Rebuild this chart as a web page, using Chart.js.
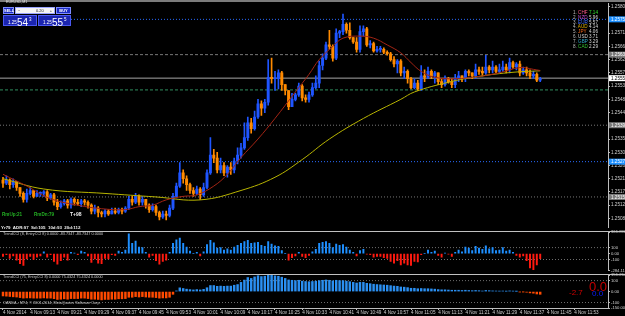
<!DOCTYPE html>
<html>
<head>
<meta charset="utf-8">
<title>EURUSD,M1</title>
<script src="https://cdn.jsdelivr.net/npm/chart.js@4.4.1/dist/chart.umd.min.js"></script>
<style>
  html, body { margin: 0; padding: 0; background: #000; }
  #wrap { position: relative; width: 625px; height: 316px; overflow: hidden; background: #000;
          font-family: "Liberation Sans", Arial, sans-serif; }
  canvas { position: absolute; left: 0; }
  #cMain { top: 0; }
  #cCci8 { top: 226px; }
  #cCci75 { top: 269px; }
  .t { position: absolute; white-space: nowrap; line-height: 1; }
  #strip { position: absolute; left: 0; top: 0; width: 625px; height: 2px; background: #7b7b7b; }
  .btn { position: absolute; box-sizing: border-box; background: #1c2cc4; border: 1px solid #7d8cff;
         color: #fff; font-size: 4px; font-weight: bold; text-align: center; line-height: 5px; }
  .lot { position: absolute; box-sizing: border-box; background: #f4f4f4; border: 1px solid #9aa4ff;
         color: #222; font-size: 4px; line-height: 5px; }
  .pbox { position: absolute; box-sizing: border-box; background: #1b25b0; border: 1px solid #4a58f0;
          color: #fff; }
  .pbox small { position: absolute; left: 4px; top: 4px; font-size: 4.5px; }
  .pbox b { position: absolute; left: 13px; top: 1px; font-size: 10px; font-weight: normal; }
  .pbox sup { position: absolute; left: 25px; top: 1px; font-size: 4.5px; }
  .cur { position: absolute; left: 573px; font-size: 4.6px; line-height: 1; white-space: nowrap; }
  .cur span { display: inline-block; width: 16px; }
</style>
</head>
<body>
<div id="wrap">
  <canvas id="cMain" width="625" height="231"></canvas>
  <canvas id="cCci8" width="625" height="48"></canvas>
  <canvas id="cCci75" width="625" height="47"></canvas>

  <div id="strip"></div>
  <div class="t" style="left:6px;top:1px;font-size:3.6px;color:#e8e8e8">EURUSD,M1</div>
  <div class="btn" style="left:3px;top:7px;width:11px;height:7px">SELL</div>
  <div class="lot" style="left:15px;top:7px;width:40px;height:7px">
    <span style="position:absolute;left:2px">&minus;</span>
    <span style="position:absolute;left:20px">0.20</span>
    <span style="position:absolute;right:2px">+</span>
  </div>
  <div class="btn" style="left:56px;top:7px;width:15px;height:7px">BUY</div>
  <div class="pbox" style="left:3px;top:15px;width:34px;height:11px"><small>1.25</small><b>54</b><sup>3</sup></div>
  <div class="pbox" style="left:38px;top:15px;width:33px;height:11px"><small>1.25</small><b>55</b><sup>5</sup></div>

  <div id="curList"></div>

  <div class="t" style="left:2px;top:213px;font-size:4.6px;font-weight:bold;color:#23b023">RmUp:21</div>
  <div class="t" style="left:34px;top:213px;font-size:4.6px;font-weight:bold;color:#23b023">RmDn:79</div>
  <div class="t" style="left:70px;top:212px;font-size:5px;font-weight:bold;color:#f0f0f0">T+98</div>
  <div class="t" style="left:1px;top:226px;font-size:4.4px;font-weight:bold;color:#f0f0f0">Yr79&nbsp; ADR:97&nbsp; Sd:105&nbsp; 10d:93&nbsp; 20d:112</div>
  <div class="t" style="left:3px;top:233px;font-size:3.8px;color:#c8c8c8">TrendCCI (8, EntryCCI 8) 0.0000 -83.7347 -83.7347 0.0000</div>
  <div class="t" style="left:3px;top:276px;font-size:3.8px;color:#c8c8c8">TrendCCI (75, EntryCCI 8) 0.0000 75.4324 75.4324 0.0000</div>
  <div class="t" style="left:3px;top:302px;font-size:3.8px;color:#c8c8c8">OANDA - MT4, &copy; 2001-2014, MetaQuotes Software Corp.</div>
  <div class="t" style="left:589px;top:280px;font-size:13px;color:#c40000">0.0</div>
  <div class="t" style="left:569px;top:289px;font-size:8px;color:#d00000">-2.7</div>
  <div class="t" style="left:592px;top:290px;font-size:8px;color:#0a1eff">0.0</div>
</div>

<script>
// EURUSD M1, 4 Nov 2014, one candle per minute from 09:05
const firstOpen = 1.2521;
const closes = [
  1.252, 1.2521, 1.25195, 1.25205, 1.25185, 1.25165, 1.25145, 1.25165, 1.25175, 1.25155,
  1.25165, 1.25165, 1.2517, 1.2515, 1.2516, 1.25135, 1.2512, 1.2513, 1.2514, 1.25125,
  1.25145, 1.25135, 1.2513, 1.2514, 1.25135, 1.25125, 1.25105, 1.25115, 1.251, 1.25095,
  1.25105, 1.25095, 1.25105, 1.251, 1.2511, 1.25105, 1.25115, 1.25145, 1.25135, 1.25155,
  1.25135, 1.25145, 1.25125, 1.2511, 1.2512, 1.251, 1.25085, 1.25095, 1.2509, 1.25115,
  1.25155, 1.2519, 1.25235, 1.25215, 1.25195, 1.25175, 1.25165, 1.2518, 1.2516, 1.25185,
  1.25235, 1.25295, 1.25285, 1.25245, 1.2526, 1.25235, 1.25255, 1.25245, 1.25275, 1.25295,
  1.2532, 1.25355, 1.25405, 1.25385, 1.25425, 1.2547, 1.25455, 1.25475, 1.2556, 1.25555,
  1.25555, 1.25575, 1.25535, 1.25515, 1.2546, 1.25485, 1.255, 1.2553, 1.2549, 1.25485,
  1.255, 1.25525, 1.2554, 1.256, 1.25625, 1.2567, 1.25665, 1.25625, 1.2571, 1.25715,
  1.2574, 1.2572, 1.25695, 1.2568, 1.25655, 1.25715, 1.25725, 1.2567, 1.25675, 1.2565,
  1.25655, 1.25655, 1.25645, 1.2564, 1.2562, 1.25605, 1.25615, 1.25575, 1.2558, 1.25555,
  1.25525, 1.2554, 1.2552, 1.25565, 1.2556, 1.2558, 1.25565, 1.25575, 1.25545, 1.25535,
  1.25555, 1.25545, 1.25535, 1.25555, 1.25565, 1.25555, 1.2558, 1.25575, 1.25565, 1.25585,
  1.2558, 1.25575, 1.25595, 1.25585, 1.25595, 1.2558, 1.25585, 1.25595, 1.25585, 1.2561,
  1.25595, 1.25605, 1.25575, 1.25585, 1.25575, 1.25565, 1.2557, 1.2555, 1.25555
];
const highs = [
  1.2522, 1.25225, 1.25215, 1.25215, 1.25205, 1.25185, 1.2517, 1.2518, 1.25185, 1.25175,
  1.25175, 1.2517, 1.25175, 1.25175, 1.25165, 1.25165, 1.25145, 1.2514, 1.25145, 1.25145,
  1.2515, 1.2515, 1.25145, 1.25145, 1.25145, 1.2514, 1.2513, 1.25125, 1.2512, 1.25105,
  1.2511, 1.2511, 1.25115, 1.25115, 1.25115, 1.25115, 1.2512, 1.25155, 1.25155, 1.25165,
  1.2516, 1.25155, 1.25145, 1.2513, 1.2513, 1.25125, 1.25105, 1.25105, 1.25105, 1.25125,
  1.25165, 1.252, 1.2527, 1.25245, 1.25225, 1.252, 1.25185, 1.2519, 1.25185, 1.252,
  1.25245, 1.25355, 1.25315, 1.25305, 1.25285, 1.2527, 1.2526, 1.2527, 1.25285, 1.2532,
  1.25335, 1.25405, 1.25425, 1.2542, 1.25445, 1.25485, 1.2548, 1.25485, 1.2562, 1.25625,
  1.2558, 1.25585, 1.2558, 1.25535, 1.25515, 1.25505, 1.25505, 1.2554, 1.25535, 1.255,
  1.2551, 1.2554, 1.25565, 1.25615, 1.2564, 1.2568, 1.2572, 1.2567, 1.25725, 1.2572,
  1.25775, 1.25745, 1.25745, 1.25695, 1.25695, 1.25735, 1.25735, 1.2573, 1.25685, 1.2568,
  1.25665, 1.25665, 1.2566, 1.2565, 1.25645, 1.2563, 1.2562, 1.2562, 1.25595, 1.25585,
  1.2556, 1.25555, 1.2555, 1.256, 1.25585, 1.25595, 1.25585, 1.2558, 1.25575, 1.25555,
  1.25565, 1.2556, 1.25555, 1.2557, 1.2558, 1.25565, 1.25585, 1.25585, 1.25575, 1.25605,
  1.25595, 1.25595, 1.25635, 1.256, 1.25615, 1.256, 1.25605, 1.25615, 1.25605, 1.25625,
  1.25615, 1.2561, 1.25615, 1.25595, 1.25595, 1.25585, 1.2558, 1.25575, 1.2556
];
const lows = [
  1.25185, 1.25195, 1.2518, 1.25185, 1.25175, 1.25155, 1.25135, 1.25135, 1.2516, 1.2515,
  1.25155, 1.25155, 1.25155, 1.2514, 1.25145, 1.25125, 1.2511, 1.25115, 1.25125, 1.25115,
  1.25115, 1.25125, 1.25125, 1.2512, 1.25125, 1.25115, 1.25095, 1.25095, 1.25085, 1.25085,
  1.25085, 1.2509, 1.25095, 1.25095, 1.25095, 1.25095, 1.251, 1.2511, 1.25125, 1.2513,
  1.25125, 1.25125, 1.25115, 1.251, 1.25105, 1.2509, 1.25075, 1.2508, 1.25075, 1.25085,
  1.2511, 1.2515, 1.25185, 1.252, 1.25175, 1.25165, 1.25155, 1.2516, 1.25145, 1.25155,
  1.2518, 1.2523, 1.2527, 1.25235, 1.25235, 1.25225, 1.2522, 1.2523, 1.25235, 1.25265,
  1.25285, 1.25315, 1.25345, 1.2537, 1.2538, 1.2542, 1.2543, 1.2544, 1.25465, 1.2554,
  1.25515, 1.2552, 1.25515, 1.255, 1.2545, 1.2546, 1.2548, 1.25495, 1.2548, 1.25475,
  1.25475, 1.25495, 1.2552, 1.25525, 1.25585, 1.2562, 1.25655, 1.25615, 1.2562, 1.25695,
  1.25705, 1.2571, 1.2569, 1.25675, 1.25645, 1.25645, 1.257, 1.25665, 1.2566, 1.25645,
  1.25645, 1.25645, 1.2564, 1.25635, 1.25615, 1.25595, 1.25575, 1.25565, 1.25555, 1.2554,
  1.2552, 1.2552, 1.25515, 1.25515, 1.25545, 1.25555, 1.25555, 1.2554, 1.25535, 1.25525,
  1.2553, 1.2554, 1.25525, 1.25525, 1.25545, 1.25545, 1.25545, 1.25565, 1.25555, 1.25555,
  1.2557, 1.25565, 1.2557, 1.25575, 1.25575, 1.25575, 1.25575, 1.2558, 1.25575, 1.25575,
  1.2559, 1.25585, 1.25565, 1.2557, 1.25565, 1.25555, 1.25555, 1.25545, 1.25545
];

// moving averages (candle index / price)
const fastMaIdx = [0, 7, 14, 22, 29, 36, 40, 44, 48, 53, 57, 62, 66, 70, 75, 80, 86, 90, 93, 97,
  100, 105, 109, 113, 117, 120, 123, 127, 133, 140, 146, 152, 156, 158];
const fastMaVal = [1.2523, 1.2519, 1.25147, 1.25125, 1.25113, 1.2511, 1.2512, 1.25125, 1.25143, 1.25155,
  1.2516, 1.2519, 1.2523, 1.25287, 1.2535, 1.2542, 1.2551, 1.2557, 1.2562, 1.25665,
  1.25693, 1.257, 1.25693, 1.2567, 1.25643, 1.2561, 1.2558, 1.2556, 1.25555, 1.25563,
  1.25575, 1.25593, 1.25587, 1.25583];
const slowMaIdx = [0, 12, 30, 45, 58, 70, 80, 88, 96, 106, 117, 121, 131, 140, 150, 158];
const slowMaVal = [1.25215, 1.2518, 1.25165, 1.25153, 1.25143, 1.25175, 1.2522, 1.2528, 1.2535, 1.2542,
  1.25485, 1.2551, 1.25543, 1.25563, 1.25577, 1.25582];

// horizontal chart objects
const levelPrices = [1.25757, 1.25637, 1.25557, 1.25517, 1.25397, 1.25273, 1.25153];
const priceTicks = [1.258, 1.25755, 1.2571, 1.25665, 1.2562, 1.25575, 1.2553, 1.25485, 1.2544,
  1.25395, 1.2535, 1.25305, 1.2526, 1.25215, 1.2517, 1.25125, 1.2508];

// TrendCCI(8) and TrendCCI(75) histograms
const cci8 = [
  -50, -20, -80, -40, -110, -170, -200, -90, -50, -100,
  -60, -40, 30, -60, -20, -130, -180, -120, -60, -110,
  20, 10, -20, 40, 20, -40, -150, -90, -160, -170,
  -80, -90, -20, -30, 40, 20, 60, 330, 170, 210,
  110, 100, 20, -60, -30, -120, -180, -130, -110, 20,
  170, 230, 260, 170, 110, 40, 0, 20, -40, 30,
  150, 220, 180, 90, 100, 60, 80, 60, 110, 140,
  170, 200, 220, 170, 180, 190, 140, 120, 200, 160,
  130, 120, 50, 0, -110, -70, -40, 20, -50, -70,
  -30, 30, 70, 170, 190, 200, 170, 100, 160, 140,
  150, 110, 60, 20, -40, 50, 70, -10, -20, -60,
  -50, -50, -70, -80, -130, -160, -120, -190, -160, -190,
  -200, -130, -140, -20, 0, 60, 20, 40, -30, -60,
  10, -10, -50, 20, 60, 30, 110, 90, 50, 120,
  90, 70, 130, 80, 100, 50, 60, 100, 40, 60,
  20, -30, -60, -40, -120, -240, -270, -190, -84
];
const cci75 = [
  -40, -42, -45, -48, -50, -55, -60, -58, -58, -60,
  -60, -60, -58, -60, -60, -65, -72, -70, -66, -70,
  -64, -64, -64, -60, -60, -64, -70, -70, -72, -76,
  -72, -72, -70, -70, -66, -66, -64, -52, -52, -46,
  -50, -46, -50, -52, -52, -55, -60, -58, -58, -52,
  -25, 6, 34, 28, 22, 18, 15, 18, 15, 20,
  35, 55, 55, 48, 50, 48, 50, 50, 58, 64,
  84, 105, 128, 120, 134, 145, 137, 140, 151, 148,
  143, 140, 131, 120, 106, 103, 100, 103, 95, 92,
  90, 92, 95, 100, 103, 106, 103, 98, 103, 100,
  100, 95, 90, 84, 78, 84, 84, 75, 72, 67,
  64, 62, 60, 58, 54, 50, 48, 42, 40, 36,
  30, 30, 26, 28, 26, 26, 24, 22, 18, 16,
  16, 14, 12, 12, 12, 10, 12, 10, 8, 10,
  8, 5, 10, 8, 6, 5, 4, 5, 3, 6,
  4, 2, -3, -2, -6, -12, -15, -22, -25
];
const cci8Ticks = [361.896, 100, 0, -100, -284.11];
const cci75Ticks = [151.2644, 100, 0, -100, -150];

const timeLabels = ['4 Nov 2014', '4 Nov 09:13', '4 Nov 09:21', '4 Nov 09:29', '4 Nov 09:37',
  '4 Nov 09:45', '4 Nov 09:53', '4 Nov 10:01', '4 Nov 10:09', '4 Nov 10:17', '4 Nov 10:25',
  '4 Nov 10:33', '4 Nov 10:41', '4 Nov 10:49', '4 Nov 10:57', '4 Nov 11:05', '4 Nov 11:13',
  '4 Nov 11:21', '4 Nov 11:29', '4 Nov 11:37', '4 Nov 11:45', '4 Nov 11:53'];

// currency strength meter
const currencies = ['CHF', 'NZD', 'EUR', 'AUD', 'JPY', 'USD', 'GBP', 'CAD'];
const strength = [7.14, 5.96, 5.57, 4.14, 4.06, 3.71, 3.29, 2.29];

// ---------------- styling ----------------
const FONT = '"Liberation Sans", Arial, sans-serif';
const AXIS_W = 17;
const X_MIN = -0.88, X_MAX = 177.94;
const BULL = '#1f55ff', BEAR = '#ff8a00';
const curColors = ['#ff5a8c', '#c24fd6', '#3f6bff', '#e0b000', '#ff6a1a', '#cfcfcf', '#2fa8c8', '#33c033'];
const levelStyles = [
  { color: '#2a6cff', dash: [1, 2], from: 20, box: '#1e90ff', text: '#fff' },
  { color: '#777', dash: [3, 2], box: '#7a7a7a', text: '#fff' },
  { color: '#a6a6a6', dash: [], box: '#ffffff', text: '#000' },
  { color: '#2f8f5f', dash: [3, 2], box: null },
  { color: '#777', dash: [1, 2], box: '#7a7a7a', text: '#fff' },
  { color: '#2a6cff', dash: [1, 2], box: '#1e90ff', text: '#fff' },
  { color: '#777', dash: [1, 2], box: '#7a7a7a', text: '#fff' }
];

document.getElementById('curList').innerHTML = currencies.map((c, k) =>
  `<div class="cur" style="top:${11 + k * 4.8}px"><span><i style="font-style:normal;color:#bbb">${k + 1}. </i>` +
  `<i style="font-style:normal;color:${curColors[k]}">${c}</i></span>` +
  `<i style="font-style:normal;color:${k === 0 ? '#31e031' : '#d8d8d8'}">${strength[k].toFixed(2)}</i></div>`
).join('');

const opens = closes.map((c, i) => i === 0 ? firstOpen : closes[i - 1]);
const candleColors = closes.map((c, i) => c >= opens[i] ? BULL : BEAR);

const yAxisBase = (extra) => Object.assign({
  position: 'right',
  afterFit: s => { s.width = AXIS_W; },
  border: { display: true, color: '#bdbdbd', width: 1 },
  grid: { display: true, drawOnChartArea: false, tickLength: 2, color: '#bdbdbd' },
  ticks: { color: '#d0d0d0', padding: 1, font: { family: FONT, size: 4.6 } }
}, extra);

const xAxisHidden = {
  type: 'linear', min: X_MIN, max: X_MAX, offset: false, display: false,
  grid: { offset: false }
};

const separator = {
  id: 'separator',
  beforeDraw(chart) {
    const { ctx, chartArea } = chart;
    ctx.save();
    ctx.fillStyle = '#c0c0c0';
    ctx.fillRect(0, chartArea.top - 1, chart.width, 1);
    ctx.restore();
  }
};

const axisBoxes = {
  id: 'axisBoxes',
  afterDraw(chart) {
    const { ctx, chartArea, scales } = chart;
    ctx.save();
    ctx.font = `4.6px ${FONT}`;
    ctx.textBaseline = 'middle';
    levelPrices.forEach((p, k) => {
      const st = levelStyles[k];
      if (!st.box) return;
      const py = scales.y.getPixelForValue(p);
      ctx.fillStyle = st.box;
      ctx.fillRect(chartArea.right + 1, py - 3, chart.width - chartArea.right - 1, 6);
      ctx.fillStyle = st.text;
      ctx.fillText(p.toFixed(5), chartArea.right + 3, py + 0.3);
    });
    ctx.restore();
  }
};

const common = {
  responsive: false,
  animation: false,
  devicePixelRatio: 1,
  events: [],
  plugins: { legend: { display: false }, tooltip: { enabled: false } }
};

// ---------------- main price panel ----------------
const levelSets = levelPrices.map((p, k) => ({
  type: 'line',
  data: [{ x: levelStyles[k].from !== undefined ? levelStyles[k].from : X_MIN, y: p }, { x: X_MAX, y: p }],
  borderColor: levelStyles[k].color,
  borderDash: levelStyles[k].dash,
  borderWidth: 1,
  pointRadius: 0,
  order: 10
}));

new Chart(document.getElementById('cMain'), {
  type: 'bar',
  data: {
    datasets: [
      ...levelSets,
      {
        type: 'bar',
        data: closes.map((c, i) => ({ x: i, y: [lows[i], highs[i]] })),
        backgroundColor: candleColors,
        barThickness: 1,
        grouped: false,
        order: 6
      },
      {
        type: 'bar',
        data: closes.map((c, i) => ({ x: i, y: [Math.min(opens[i], c), Math.max(opens[i], c)] })),
        backgroundColor: candleColors,
        barThickness: 2.3,
        minBarLength: 1,
        grouped: false,
        order: 5
      },
      {
        type: 'line',
        data: slowMaIdx.map((x, k) => ({ x, y: slowMaVal[k] })),
        borderColor: '#b8b400',
        borderWidth: 1,
        pointRadius: 0,
        tension: 0.4,
        order: 2
      },
      {
        type: 'line',
        data: fastMaIdx.map((x, k) => ({ x, y: fastMaVal[k] })),
        borderColor: '#a32414',
        borderWidth: 1,
        pointRadius: 0,
        tension: 0.4,
        order: 1
      }
    ]
  },
  options: Object.assign({}, common, {
    layout: { padding: { top: 3, left: 0, right: 0, bottom: 0 } },
    scales: {
      x: xAxisHidden,
      y: yAxisBase({
        type: 'linear', min: 1.2505, max: 1.2581,
        afterBuildTicks: s => { s.ticks = priceTicks.map(v => ({ value: v })); },
        ticks: { color: '#d0d0d0', padding: 1, font: { family: FONT, size: 4.6 }, callback: v => v.toFixed(5) }
      })
    }
  }),
  plugins: [axisBoxes]
});

// ---------------- indicator panels ----------------
const cciLabel = v => (v === 100 || v === -100) ? String(v) : (v === 0 ? '0.00' : v.toFixed(4));

function histogramChart(canvasId, values, ticks, range, posColor, negColor, barW, withTime) {
  const levels = [100, -100].map(v => ({
    type: 'line',
    data: [{ x: X_MIN, y: v }, { x: X_MAX, y: v }],
    borderColor: '#6e6e6e', borderDash: [1, 2], borderWidth: 1, pointRadius: 0, order: 10
  }));
  const x = withTime ? {
    type: 'linear', min: X_MIN, max: X_MAX, offset: false,
    afterFit: s => { s.height = 8; },
    afterBuildTicks: s => { s.ticks = timeLabels.map((t, k) => ({ value: k * 8 })); },
    border: { display: true, color: '#bdbdbd', width: 1 },
    grid: { display: true, drawOnChartArea: false, tickLength: 2, color: '#bdbdbd', offset: false },
    ticks: {
      autoSkip: false, maxRotation: 0, minRotation: 0, align: 'start', padding: 0,
      color: '#d0d0d0', font: { family: FONT, size: 4.6 },
      callback: (v, k) => timeLabels[k]
    }
  } : xAxisHidden;

  return new Chart(document.getElementById(canvasId), {
    type: 'bar',
    data: {
      datasets: [
        ...levels,
        {
          type: 'bar',
          data: values.map((v, i) => ({ x: i, y: v })),
          backgroundColor: values.map(v => v >= 0 ? posColor : negColor),
          barThickness: barW,
          grouped: false,
          order: 5
        }
      ]
    },
    options: Object.assign({}, common, {
      layout: { padding: { top: 6, left: 0, right: 0, bottom: withTime ? 0 : 1 } },
      scales: {
        x,
        y: yAxisBase({
          type: 'linear', min: range[0], max: range[1],
          afterBuildTicks: s => { s.ticks = ticks.map(v => ({ value: v })); },
          ticks: { color: '#d0d0d0', padding: 1, font: { family: FONT, size: 4.2 }, callback: cciLabel }
        })
      }
    }),
    plugins: [separator]
  });
}

histogramChart('cCci8', cci8, cci8Ticks, [-284.11, 361.896], '#1e8fff', '#ff1a10', 1.3, false);
histogramChart('cCci75', cci75, cci75Ticks, [-150, 151.2644], '#2b8ff0', '#ff4a00', 1.8, true);
</script>
</body>
</html>
